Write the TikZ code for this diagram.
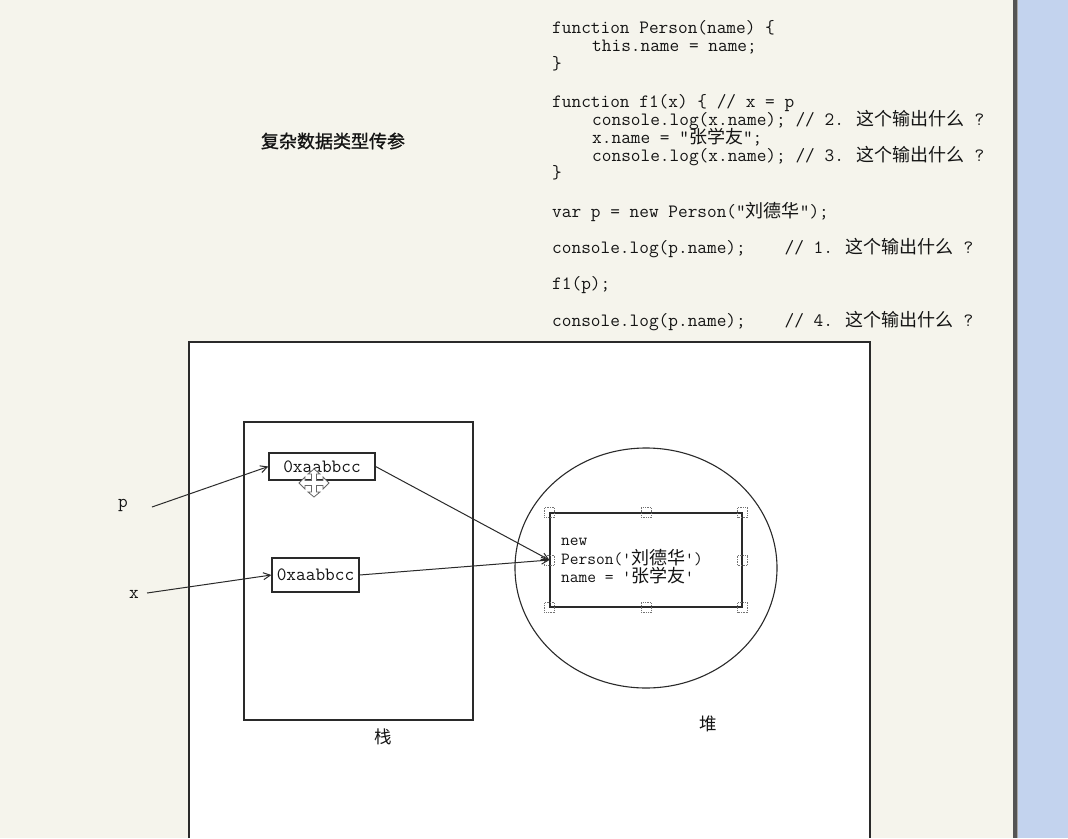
\documentclass[tikz,border=0pt]{standalone}
\usepackage{fontspec}
\usetikzlibrary{shapes.geometric,arrows.meta}
\newfontfamily\codefont{Latin Modern Mono}
\newfontfamily\cjkfont{Noto Sans CJK SC}
\newfontfamily\titlefont[FakeBold=1.2]{Noto Sans CJK SC}
\newcommand{\zh}[1]{{\fontsize{18}{18}\selectfont\cjkfont #1}}
\definecolor{bgc}{HTML}{F5F4EC}
\definecolor{bluec}{HTML}{C3D3EE}
\definecolor{barc}{HTML}{545454}
\definecolor{linec}{HTML}{2A2A2A}
\definecolor{txtc}{HTML}{141414}
\begin{document}
\begin{tikzpicture}[x=1pt,y=-1pt,
  code/.style={anchor=base west,inner sep=0pt,text=txtc,font=\fontsize{18.8}{18}\selectfont\codefont},
  small/.style={anchor=base west,inner sep=0pt,text=txtc,font=\fontsize{17}{17}\selectfont\codefont},
  lbl/.style={inner sep=0pt,text=txtc,font=\fontsize{17.5}{17.5}\selectfont\cjkfont},
  boxc/.style={draw=linec,line width=1.2pt,rectangle,inner sep=0pt},
  handle/.style={draw=gray!90!black,densely dotted,line width=0.7pt,minimum size=10pt,inner sep=0pt,rectangle},
  conn/.style={draw=linec,line width=1pt,-{Straight Barb[length=7pt,width=7pt]}}]
\useasboundingbox (0,0) rectangle (1068,838);
\fill[bgc] (0,0) rectangle (1068,838);
\fill[bluec] (1018,0) rectangle (1068,838);
\fill[barc] (1013,0) rectangle (1018,838);
\fill[gray!70] (1016.5,0) rectangle (1018,838);
% big white area
\filldraw[fill=white,draw=linec,line width=1.2pt] (189,838) -- (189,342) -- (870,342) -- (870,838);
% code
\node[code] (c1) at (552,33) {function Person(name) \{};
\node[code] (c2) at (592,51) {this.name = name;};
\node[code] (c3) at (552,69) {\}};
\node[code] (c4) at (552,107) {function f1(x) \{ // x = p};
\node[code] (c5) at (592,125) {console.log(x.name); // 2. \zh{这个输出什么}~?};
\node[code] (c6) at (592,143) {x.name = "\zh{张学友}";};
\node[code] (c7) at (592,161) {console.log(x.name); // 3. \zh{这个输出什么}~?};
\node[code] (c8) at (552,178) {\}};
\node[code] (c9) at (552,217) {var p = new Person("\zh{刘德华}");};
\node[code] (c10) at (552,253) {console.log(p.name);~~~~// 1. \zh{这个输出什么}~?};
\node[code] (c11) at (552,289) {f1(p);};
\node[code] (c12) at (552,326) {console.log(p.name);~~~~// 4. \zh{这个输出什么}~?};
% title
\node[inner sep=0pt,text=txtc,font=\fontsize{18}{18}\selectfont\titlefont] (title) at (333,141) {复杂数据类型传参};
% stack
\node[boxc,minimum width=229pt,minimum height=298pt] (stack) at (358.5,571) {};
\node[boxc,minimum width=106pt,minimum height=27pt] (pbox) at (322,466.5) {};
\node[code,anchor=center] (ptxt) at (pbox.center) {0xaabbcc};
\node[boxc,minimum width=87pt,minimum height=34pt] (xbox) at (315.5,575) {};
\node[code,anchor=center] (xtxt) at (xbox.center) {0xaabbcc};
\node[lbl] (zhan) at (383,737) {栈};
% heap
\node[draw=linec,line width=1.1pt,ellipse,minimum width=262pt,minimum height=240pt,inner sep=0pt] (heap) at (646,568) {};
\node[boxc,minimum width=192pt,minimum height=94pt] (obj) at (646,560) {};
\node[small] (o1) at (561,545) {new};
\node[small] (o2) at (561,564) {Person('\zh{刘德华}')};
\node[small] (o3) at (561,582) {name = '\zh{张学友}'};
\node[lbl] (dui) at (708,724) {堆};
% selection handles
\foreach \a [count=\i] in {north west,north,north east,west,east,south west,south,south east}
  \node[handle] (h\i) at (obj.\a) {};
% labels p x
\node[code,anchor=center] (lp) at (123,505) {p};
\node[code,anchor=center] (lx) at (134,594) {x};
\coordinate (ps) at (152,507);
\coordinate (xs) at (147,593);
% connectors
\draw[conn] (ps) -- (pbox.west);
\draw[conn] (xs) -- (xbox.west);
\draw[conn] (pbox.east) -- (obj.west);
\draw[conn] (xbox.east) -- (obj.west);
% move cursor
\filldraw[fill=white,draw=gray!80!black,line width=0.8pt,shift={(314,483)}]
 (2.5,-2.5)--(9,-2.5)--(9,-6)--(15,0)--(9,6)--(9,2.5)--(2.5,2.5)--(2.5,9)--(6,9)--(0,14)--(-6,9)--(-2.5,9)--(-2.5,2.5)--(-9,2.5)--(-9,6)--(-15,0)--(-9,-6)--(-9,-2.5)--(-2.5,-2.5)--(-2.5,-9)--(-6,-9)--(0,-14)--(6,-9)--(2.5,-9)--cycle;
\end{tikzpicture}
\end{document}
